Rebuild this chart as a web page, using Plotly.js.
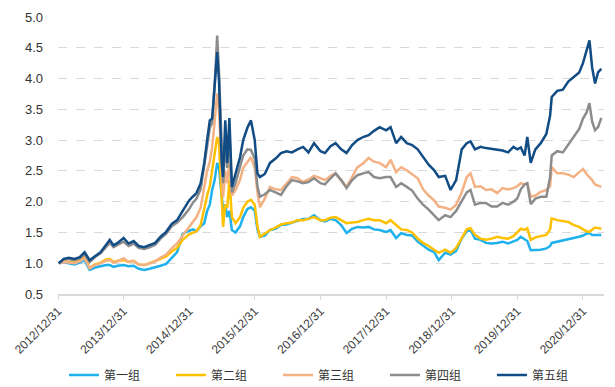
<!DOCTYPE html>
<html>
<head>
<meta charset="utf-8">
<script src="https://cdn.plot.ly/plotly-3.0.1.min.js"></script>
<style>html,body{margin:0;padding:0;background:#fff;}#chart{width:615px;height:387px;}</style>
</head>
<body>
<div id="chart"></div>
<script>
const dates = [
"2013-01-04","2013-02-01","2013-03-01","2013-04-01","2013-05-01","2013-05-28","2013-06-25","2013-07-25","2013-08-25","2013-09-25",
"2013-10-15","2013-11-05","2013-11-28","2013-12-31","2014-01-28","2014-02-25","2014-03-25","2014-04-25","2014-05-25","2014-06-25",
"2014-07-25","2014-08-25","2014-09-25","2014-10-25","2014-11-25","2014-12-31","2015-01-20","2015-02-10","2015-03-05","2015-03-25",
"2015-04-10","2015-04-25","2015-05-08","2015-05-22","2015-06-05","2015-06-15","2015-06-30","2015-07-08","2015-07-20","2015-07-31",
"2015-08-12","2015-08-26","2015-09-15","2015-10-10","2015-10-28","2015-11-20","2015-12-10","2015-12-31","2016-01-15","2016-01-29",
"2016-02-25","2016-03-25","2016-04-25","2016-05-25","2016-06-25","2016-07-25","2016-08-25","2016-09-25","2016-10-25","2016-11-25",
"2016-12-31","2017-01-25","2017-02-25","2017-03-25","2017-04-25","2017-05-25","2017-06-25","2017-07-25","2017-08-25","2017-09-25",
"2017-10-25","2017-11-25","2017-12-31","2018-01-25","2018-02-25","2018-03-25","2018-04-25","2018-05-25","2018-06-25","2018-07-25",
"2018-08-25","2018-09-25","2018-10-20","2018-11-25","2018-12-25","2019-01-25","2019-02-25","2019-03-25","2019-04-15","2019-05-10",
"2019-06-10","2019-07-10","2019-08-10","2019-09-10","2019-10-10","2019-11-10","2019-12-10","2019-12-31","2020-01-20","2020-02-10",
"2020-02-25","2020-03-15","2020-04-10","2020-05-10","2020-06-10","2020-07-01","2020-07-10","2020-08-10","2020-09-10","2020-10-10",
"2020-11-10","2020-12-10","2020-12-31","2021-01-20","2021-02-05","2021-02-20","2021-03-08","2021-03-25","2021-04-12"
];
const group1 = [
1.00,1.02,1.00,0.98,1.01,1.05,0.89,0.93,0.95,0.97,
0.97,0.94,0.96,0.97,0.95,0.96,0.91,0.89,0.91,0.93,
0.96,0.99,1.08,1.18,1.48,1.53,1.55,1.52,1.60,1.65,
1.85,1.95,2.19,2.35,2.63,2.55,2.05,1.86,1.95,1.75,
1.85,1.54,1.50,1.60,1.75,1.88,1.91,1.85,1.55,1.43,
1.45,1.54,1.56,1.62,1.63,1.66,1.70,1.72,1.72,1.78,
1.70,1.68,1.72,1.70,1.62,1.49,1.56,1.59,1.58,1.59,
1.55,1.54,1.51,1.54,1.41,1.49,1.46,1.45,1.35,1.28,
1.22,1.18,1.05,1.17,1.14,1.20,1.40,1.52,1.54,1.40,
1.38,1.33,1.32,1.33,1.35,1.32,1.36,1.38,1.43,1.38,
1.36,1.21,1.21,1.22,1.24,1.28,1.33,1.35,1.36,1.38,
1.40,1.43,1.45,1.48,1.49,1.46,1.46,1.46,1.46
];
const group2 = [
1.00,1.03,1.02,1.01,1.05,1.12,0.92,0.98,1.01,1.06,
1.07,1.02,1.04,1.05,1.02,1.04,0.98,0.97,1.00,1.03,
1.07,1.11,1.19,1.25,1.38,1.47,1.50,1.52,1.62,1.91,
2.10,2.25,2.51,2.75,3.05,2.95,2.10,1.59,1.95,1.90,
2.35,1.75,1.65,1.75,1.90,2.00,2.03,1.95,1.60,1.43,
1.48,1.54,1.58,1.63,1.65,1.66,1.70,1.70,1.72,1.75,
1.70,1.70,1.74,1.75,1.70,1.65,1.66,1.67,1.70,1.72,
1.70,1.70,1.65,1.70,1.62,1.55,1.54,1.50,1.40,1.33,
1.28,1.22,1.17,1.22,1.17,1.25,1.40,1.55,1.57,1.46,
1.40,1.38,1.40,1.43,1.41,1.40,1.44,1.50,1.56,1.54,
1.57,1.38,1.42,1.44,1.46,1.55,1.73,1.70,1.68,1.67,
1.62,1.59,1.55,1.52,1.51,1.55,1.58,1.57,1.56
];
const group3 = [
1.00,1.02,1.01,1.00,1.03,1.08,0.92,0.97,1.00,1.04,
1.05,1.01,1.03,1.08,1.02,1.04,0.98,0.97,1.00,1.03,
1.09,1.14,1.24,1.32,1.45,1.60,1.68,1.75,1.90,2.24,
2.50,2.65,2.89,3.30,3.76,3.50,2.55,2.07,2.50,2.30,
2.63,2.10,2.19,2.35,2.55,2.65,2.72,2.55,2.15,1.91,
2.05,2.24,2.20,2.19,2.30,2.40,2.38,2.32,2.36,2.42,
2.38,2.35,2.42,2.46,2.35,2.24,2.40,2.56,2.62,2.71,
2.65,2.63,2.56,2.68,2.48,2.56,2.51,2.45,2.38,2.20,
2.10,2.02,1.92,1.90,1.87,1.95,2.15,2.40,2.46,2.24,
2.25,2.19,2.20,2.14,2.22,2.20,2.22,2.25,2.30,2.28,
2.30,2.08,2.10,2.16,2.19,2.25,2.56,2.46,2.46,2.44,
2.40,2.48,2.53,2.45,2.40,2.35,2.28,2.26,2.24
];
const group4 = [
1.00,1.06,1.07,1.05,1.08,1.15,1.02,1.10,1.16,1.26,
1.33,1.26,1.30,1.35,1.28,1.32,1.25,1.23,1.26,1.30,
1.40,1.48,1.60,1.66,1.75,1.88,1.98,2.05,2.20,2.55,
2.90,3.20,3.28,3.90,4.70,4.10,2.80,2.30,3.00,2.55,
3.15,2.15,2.30,2.55,2.75,2.85,2.84,2.70,2.25,2.08,
2.12,2.19,2.15,2.11,2.25,2.35,2.33,2.30,2.32,2.38,
2.30,2.28,2.38,2.46,2.35,2.22,2.35,2.43,2.46,2.48,
2.40,2.38,2.40,2.40,2.24,2.30,2.24,2.18,2.05,1.95,
1.87,1.78,1.70,1.78,1.75,1.85,2.00,2.15,2.19,1.95,
1.98,1.98,1.92,1.92,1.98,1.95,2.00,2.05,2.20,2.28,
2.30,1.96,2.05,2.08,2.08,2.40,2.75,2.82,2.80,2.92,
3.05,3.18,3.35,3.45,3.60,3.30,3.16,3.21,3.36
];
const group5 = [
1.00,1.07,1.09,1.07,1.10,1.18,1.05,1.12,1.18,1.30,
1.38,1.29,1.33,1.41,1.32,1.36,1.28,1.26,1.29,1.33,
1.43,1.51,1.64,1.70,1.85,2.02,2.08,2.14,2.30,2.63,
3.00,3.32,3.35,3.85,4.43,3.97,2.63,2.40,3.32,2.63,
3.36,2.24,2.46,2.72,3.00,3.20,3.32,3.00,2.46,2.40,
2.45,2.63,2.70,2.79,2.82,2.80,2.85,2.89,2.80,2.95,
2.82,2.79,2.90,2.95,2.85,2.79,2.92,3.00,3.05,3.08,
3.15,3.21,3.16,3.21,2.95,3.05,2.95,2.92,2.85,2.72,
2.60,2.51,2.40,2.42,2.19,2.35,2.85,2.95,2.98,2.85,
2.89,2.87,2.86,2.84,2.83,2.80,2.89,2.85,2.88,2.75,
3.05,2.63,2.85,2.95,3.10,3.40,3.70,3.80,3.82,3.95,
4.02,4.10,4.25,4.46,4.62,4.18,3.92,4.10,4.16
];
const names = ["第一组","第二组","第三组","第四组","第五组"];
const tickDates = ["2012-12-31","2013-12-31","2014-12-31","2015-12-31","2016-12-31","2017-12-31","2018-12-31","2019-12-31","2020-12-31"];
const tickLabels = ["2012/12/31","2013/12/31","2014/12/31","2015/12/31","2016/12/31","2017/12/31","2018/12/31","2019/12/31","2020/12/31"];

const series = [group1, group2, group3, group4, group5];
const colors = ["#1FB1EC","#FFC000","#F4B183","#8C8C8C","#124C84"];
const traces = series.map((s, i) => ({
  x: dates, y: s, name: names[i], type: "scatter", mode: "lines",
  line: {color: colors[i], width: 2.5}
}));

const layout = {
  width: 615, height: 387,
  margin: {l: 58, r: 11, t: 17, b: 93, autoexpand: false},
  paper_bgcolor: "#fff", plot_bgcolor: "#fff",
  font: {family: "Liberation Sans, Arial, sans-serif", color: "#333"},
  xaxis: {
    type: "date", range: ["2012-12-31", "2021-04-27"],
    tickmode: "array", tickvals: tickDates, ticktext: tickLabels,
    tickangle: -45, tickfont: {size: 12, color: "#404040"},
    showgrid: false, zeroline: false,
    showline: true, linecolor: "#D9D9D9", linewidth: 1.5,
    ticks: "outside", ticklen: 4, tickcolor: "#D9D9D9"
  },
  yaxis: {
    range: [0.5, 5.0], dtick: 0.5, tick0: 0.5, tickformat: ".1f",
    tickfont: {size: 13, color: "#333"},
    showgrid: true, gridcolor: "#D9D9D9", griddash: "dash", gridwidth: 1,
    zeroline: false, showline: false, ticklabelstandoff: 14
  },
  showlegend: true,
  legend: {
    orientation: "h", xref: "container", x: 0.104, xanchor: "left",
    y: -0.292, yanchor: "middle",
    font: {family: "Noto Sans CJK SC", size: 12, color: "#333"},
    entrywidth: 62, entrywidthmode: "pixels", traceorder: "normal"
  }
};
Plotly.newPlot("chart", traces, layout, {displayModeBar: false, staticPlot: true});
</script>
</body>
</html>
